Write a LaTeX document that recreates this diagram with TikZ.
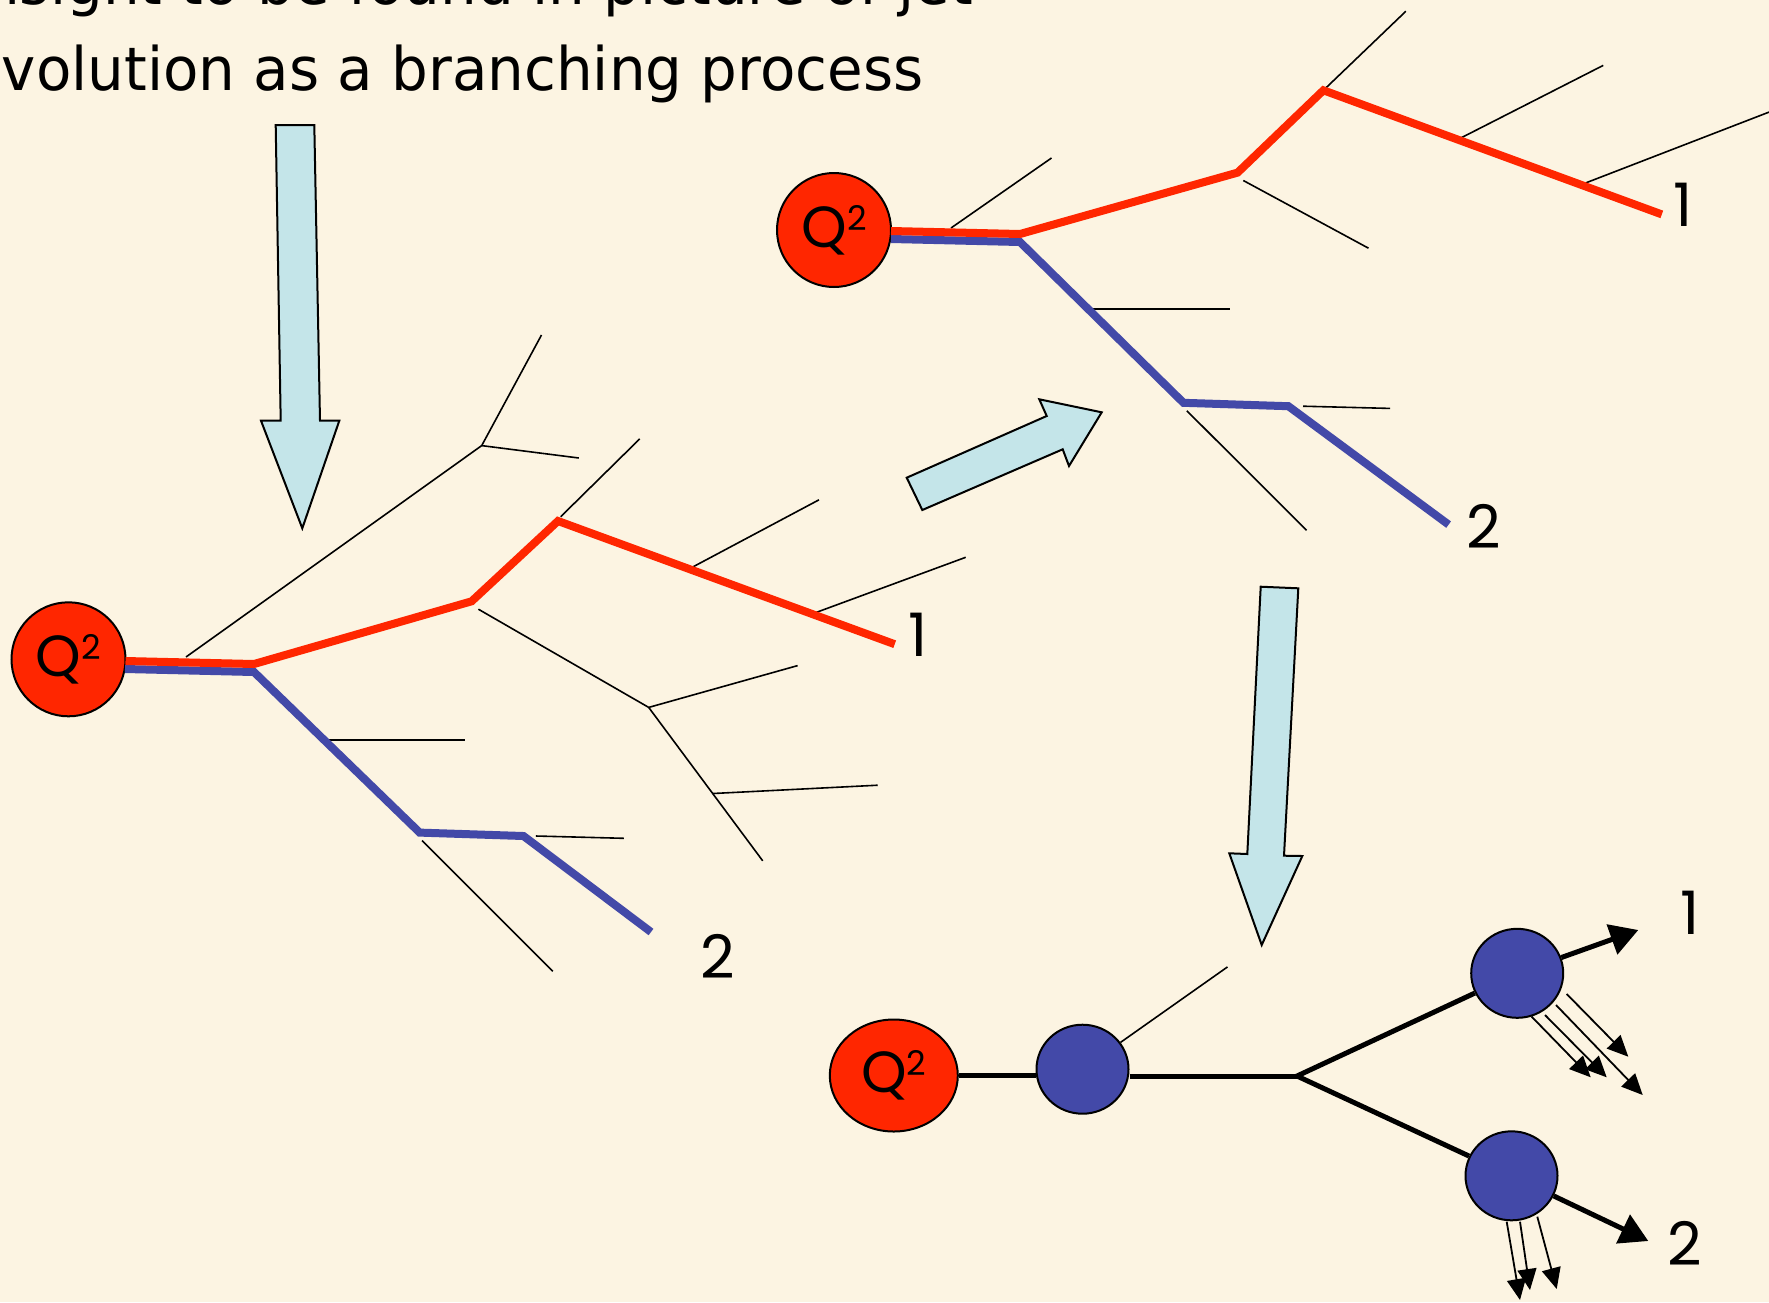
\documentclass[tikz,border=0pt]{standalone}
\usepackage{fontspec}
\setmainfont{DejaVu Sans}
\newfontfamily\headfont[FakeStretch=0.965]{DejaVu Sans}
\newfontfamily\geofont{Poppins}
\usetikzlibrary{arrows.meta,shapes.geometric}

\definecolor{paper}{RGB}{252,244,226}
\definecolor{quark}{RGB}{255,38,0}
\definecolor{gluon}{RGB}{67,73,168}
\definecolor{pale}{RGB}{196,229,233}

% hard scale Q^2 written as a label
\newcommand\qsq{Q\raisebox{17pt}{\fontsize{34}{34}\selectfont 2}}

\tikzset{
  headline/.style={anchor=base west, inner sep=0pt, font=\headfont\fontsize{60}{72}\selectfont},
  scalecirc/.style={circle, draw=black, line width=2pt, fill=quark, minimum size=114pt,
    inner sep=0pt, font=\geofont\fontsize{58}{60}\selectfont},
  scaleell/.style={ellipse, draw=black, line width=2pt, fill=quark, minimum width=128pt,
    minimum height=112pt, inner sep=0pt, font=\geofont\fontsize{58}{60}\selectfont},
  blob/.style={ellipse, draw=black, line width=2pt, fill=gluon, minimum width=92pt,
    minimum height=89pt, inner sep=0pt},
  jetlabel/.style={inner sep=0pt, font=\geofont\fontsize{60}{60}\selectfont},
  redleg/.style={draw=quark, line width=8pt, line join=miter},
  blueleg/.style={draw=gluon, line width=8pt, line join=miter},
  twig/.style={draw=black, line width=1.6pt},
  stage/.style={fill=pale, draw=black, line width=2pt, line join=miter},
  jet/.style={draw=black, line width=5pt},
  jetarrow/.style={jet, -{Triangle[length=28pt,width=31pt]}},
  spray/.style={draw=black, line width=1.8pt, -{Triangle[length=21pt,width=19pt]}},
}

\begin{document}
\begin{tikzpicture}[x=1pt,y=-1pt]
\useasboundingbox (0,0) rectangle (1769,1302);
\clip (0,0) rectangle (1769,1302);
\fill[paper] (0,0) rectangle (1769,1302);

% heading
\node[headline] (head1) at (-34,4) {Insight to be found in picture of jet};
\node[headline] (head2) at (-34,90) {evolution as a branching process};

% stage arrows
\draw[stage] (275.7,125) -- (314.3,125) -- (320,420.7) -- (339.3,420.7) -- (302.3,528.3)
  -- (261,420.7) -- (280.7,420.7) -- cycle;
\draw[stage] (922.3,510) -- (906.7,477.7) -- (1046.7,416) -- (1039.3,399.3) -- (1101.7,412.3)
  -- (1069,466) -- (1062.7,449.3) -- cycle;
\draw[stage] (1260.7,586.7) -- (1298.3,588.3) -- (1284,855.7) -- (1302.3,856) -- (1261.7,945)
  -- (1229.3,853.3) -- (1247.3,854) -- cycle;

% ---------------- left cascade ----------------
\node[scalecirc] (qL) at (68.5,659.3) {\qsq};

\coordinate (lt1a) at (186,657);
\coordinate (lt1b) at (481.7,445.6);
\coordinate (lt1c) at (541.5,335);
\coordinate (lt1d) at (578.8,458);
\coordinate (lt2a) at (560.7,516.7);
\coordinate (lt2b) at (639.7,438.9);
\coordinate (lt3a) at (692.7,567);
\coordinate (lt3b) at (819,499.8);
\coordinate (lt4a) at (814.6,613);
\coordinate (lt4b) at (965.7,557.3);
\coordinate (lt5a) at (478.4,609.2);
\coordinate (lt5b) at (648.7,707.4);
\coordinate (lt5c) at (797.6,665.6);
\coordinate (lt5d) at (762.7,860.8);
\coordinate (lt5e) at (713,793.5);
\coordinate (lt5f) at (877.7,785.2);
\coordinate (lt6a) at (327.2,740.1);
\coordinate (lt6b) at (464.8,740.1);
\coordinate (lt7a) at (422,840.5);
\coordinate (lt7b) at (552.8,971.4);
\coordinate (lt8a) at (535.9,836);
\coordinate (lt8b) at (623.9,838.3);

\draw[twig] (lt1a) -- (lt1b) -- (lt1c);
\draw[twig] (lt1b) -- (lt1d);
\draw[twig] (lt2a) -- (lt2b);
\draw[twig] (lt3a) -- (lt3b);
\draw[twig] (lt4a) -- (lt4b);
\draw[twig] (lt5a) -- (lt5b) -- (lt5c);
\draw[twig] (lt5b) -- (lt5d);
\draw[twig] (lt5e) -- (lt5f);
\draw[twig] (lt6a) -- (lt6b);
\draw[twig] (lt7a) -- (lt7b);
\draw[twig] (lt8a) -- (lt8b);

\coordinate (lrs) at (125.5,661);
\coordinate (lrv) at (254,664);
\coordinate (lra) at (471.6,601.3);
\coordinate (lrb) at (558,521);
\coordinate (lre) at (894.7,644.2);
\coordinate (lbs) at (125,669);
\coordinate (lbv) at (254,672);
\coordinate (lba) at (419.7,832.6);
\coordinate (lbb) at (523.5,836);
\coordinate (lbe) at (651,932);

\draw[blueleg] (lbs) -- (lbv) -- (lba) -- (lbb) -- (lbe);
\draw[redleg] (lrs) -- (lrv) -- (lra) -- (lrb) -- (lre);

\node[jetlabel] (n1L) at (918,635) {1};
\node[jetlabel] (n2L) at (717.5,956) {2};

% ---------------- right cascade ----------------
\node[scalecirc] (qR) at (834,230) {\qsq};

\coordinate (rt1a) at (951,228);
\coordinate (rt1b) at (1051.5,158);
\coordinate (rt2a) at (1323.4,90.3);
\coordinate (rt2b) at (1405.8,11.3);
\coordinate (rt3a) at (1458.8,139);
\coordinate (rt3b) at (1603.2,65.4);
\coordinate (rt4a) at (1582.9,184);
\coordinate (rt4b) at (1790,104);
\coordinate (rt5a) at (1243.3,180.5);
\coordinate (rt5b) at (1368.5,248.2);
\coordinate (rt6a) at (1091,309.1);
\coordinate (rt6b) at (1229.7,309.1);
\coordinate (rt7a) at (1186.8,410.7);
\coordinate (rt7b) at (1306.5,530.3);
\coordinate (rt8a) at (1303,406.2);
\coordinate (rt8b) at (1390,408.4);

\draw[twig] (rt1a) -- (rt1b);
\draw[twig] (rt2a) -- (rt2b);
\draw[twig] (rt3a) -- (rt3b);
\draw[twig] (rt4a) -- (rt4b);
\draw[twig] (rt5a) -- (rt5b);
\draw[twig] (rt6a) -- (rt6b);
\draw[twig] (rt7a) -- (rt7b);
\draw[twig] (rt8a) -- (rt8b);

\coordinate (rrs) at (891,231);
\coordinate (rrv) at (1020,234);
\coordinate (rra) at (1237.6,172.6);
\coordinate (rrb) at (1323.4,90.3);
\coordinate (rre) at (1661.8,214.4);
\coordinate (rbs) at (891,239);
\coordinate (rbv) at (1020,242);
\coordinate (rba) at (1183.5,402.8);
\coordinate (rbb) at (1288.4,406.2);
\coordinate (rbe) at (1448.6,524.6);

\draw[blueleg] (rbs) -- (rbv) -- (rba) -- (rbb) -- (rbe);
\draw[redleg] (rrs) -- (rrv) -- (rra) -- (rrb) -- (rre);

\node[jetlabel] (n1R) at (1683,205) {1};
\node[jetlabel] (n2R) at (1484,526) {2};

% ---------------- hadronised jets ----------------
\node[scaleell] (qB) at (893.8,1075.5) {\qsq};
\node[blob] (b0) at (1082.5,1069.2) {};
\node[blob] (bU) at (1517.2,973.3) {};
\node[blob] (bL) at (1511.5,1175.8) {};
\coordinate (fork) at (1297,1076);
\coordinate (twigB) at (1227.5,966.9);
\coordinate (tipU) at (1638.3,930);
\coordinate (tipL) at (1648.3,1241);

\draw[jet] (qB.east) -- (qB.east -| b0.west);
\draw[jet] (b0.east |- fork) -- (fork);
\draw[jet, line join=miter] (bU) -- (fork) -- (bL);
\draw[twig] (b0) -- (twigB);
\draw[jetarrow] (bU) -- (tipU);
\draw[jetarrow] (bL) -- (tipL);

\coordinate (sUa) at (1531.7,1016.7);
\coordinate (eUa) at (1590.7,1077.3);
\coordinate (sUb) at (1545,1015);
\coordinate (eUb) at (1606.7,1077.3);
\coordinate (sUc) at (1556,1005);
\coordinate (eUc) at (1642.7,1095);
\coordinate (sUd) at (1566.7,994);
\coordinate (eUd) at (1628.3,1056.7);
\coordinate (sLa) at (1506.7,1221.7);
\coordinate (eLa) at (1520,1300);
\coordinate (sLb) at (1520,1221.7);
\coordinate (eLb) at (1530,1290);
\coordinate (sLc) at (1537.3,1216.7);
\coordinate (eLc) at (1556.7,1289);

\draw[spray] (sUa) -- (eUa);
\draw[spray] (sUb) -- (eUb);
\draw[spray] (sUc) -- (eUc);
\draw[spray] (sUd) -- (eUd);
\draw[spray] (sLa) -- (eLa);
\draw[spray] (sLb) -- (eLb);
\draw[spray] (sLc) -- (eLc);

\node[jetlabel] (n1B) at (1690,913) {1};
\node[jetlabel] (n2B) at (1685,1243) {2};
\end{tikzpicture}
\end{document}
